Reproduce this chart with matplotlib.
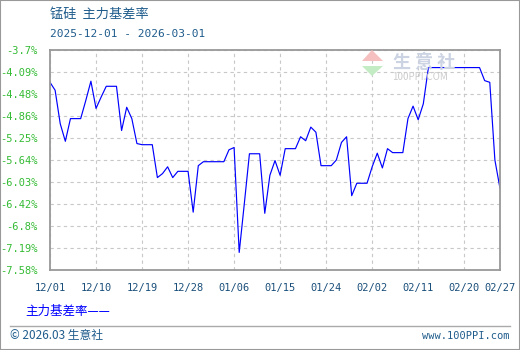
import matplotlib
matplotlib.use('Agg')
import matplotlib.pyplot as plt
from matplotlib.patches import Polygon, Rectangle
from matplotlib.lines import Line2D
import pandas as pd

plt.rcParams['font.family'] = ['Noto Sans CJK SC', 'DejaVu Sans']

# 锰硅 主力基差率 (%) daily, 2025-12-01 .. 2026-02-27
dates = pd.date_range('2025-12-01', '2026-02-27', freq='D')
basis_rate = [
    -4.27, -4.41, -5.00, -5.31, -4.91, -4.91, -4.91, -4.59, -4.25, -4.73,
    -4.53, -4.34, -4.34, -4.34, -5.12, -4.71, -4.91, -5.35, -5.37, -5.37,
    -5.37, -5.95, -5.88, -5.76, -5.95, -5.84, -5.84, -5.84, -6.56, -5.74,
    -5.67, -5.67, -5.67, -5.67, -5.67, -5.46, -5.42, -7.27, -6.41, -5.53,
    -5.53, -5.53, -6.58, -5.91, -5.65, -5.91, -5.44, -5.44, -5.44, -5.23,
    -5.30, -5.06, -5.15, -5.74, -5.74, -5.74, -5.64, -5.33, -5.23, -6.27,
    -6.05, -6.05, -6.05, -5.76, -5.52, -5.78, -5.44, -5.51, -5.51, -5.51,
    -4.91, -4.69, -4.93, -4.65, -4.01, -4.01, -4.01, -4.01, -4.01, -4.01,
    -4.01, -4.01, -4.01, -4.01, -4.01, -4.24, -4.27, -5.64, -6.14,
]
y_ticks = [-3.7, -4.09, -4.48, -4.86, -5.25, -5.64, -6.03, -6.42, -6.8, -7.19, -7.58]
x_tick_dates = pd.to_datetime(['2025-12-01', '2025-12-10', '2025-12-19', '2025-12-28',
                               '2026-01-06', '2026-01-15', '2026-01-24', '2026-02-02',
                               '2026-02-11', '2026-02-20', '2026-02-27'])
x_tick_labels = [d.strftime('%m/%d') for d in x_tick_dates]

W, H = 520, 350
fig = plt.figure(figsize=(W / 100, H / 100), dpi=100)
ax = fig.add_axes([50 / W, 80 / H, 450 / W, 220 / H])

ax.plot(dates, basis_rate, color='#0000ff', linewidth=0.85)

ax.set_xlim(dates[0], dates[-1])
ax.set_ylim(y_ticks[-1], y_ticks[0])
ax.set_yticks(y_ticks)
ax.set_yticklabels([f'{v:g}%' for v in y_ticks], family='DejaVu Sans Mono',
                   fontsize=7.5, color='#33bb33')
ax.set_xticks(x_tick_dates)
ax.set_xticklabels(x_tick_labels, family='DejaVu Sans Mono', fontsize=7.5, color='#1a4f7a')
ax.tick_params(axis='both', length=0)
ax.tick_params(axis='y', pad=9)
ax.tick_params(axis='x', pad=9)
ax.grid(True, color='#c8c8c8', linestyle=(0, (3, 3)), linewidth=0.8)
for s in ax.spines.values():
    s.set_color('#999999')
    s.set_linewidth(1.3)

# title
fig.text(50 / W, 1 - 14 / H, '锰硅  主力基差率', fontsize=9.5, color='#1f5c8c', va='center')
fig.text(50 / W, 1 - 34 / H, '2025-12-01 - 2026-03-01', family='DejaVu Sans Mono',
         fontsize=8, color='#1f5c8c', va='center')

# watermark
tf = fig.transFigure
def fp(x, y):
    return (x / W, 1 - y / H)
wm_red = Polygon([fp(362, 61), fp(372, 50), fp(383, 61)], closed=True, transform=tf,
                 facecolor='#f6c0c0', edgecolor='none')
wm_green = Polygon([fp(362, 66), fp(383, 66), fp(372, 76)], closed=True, transform=tf,
                   facecolor='#c4ecc4', edgecolor='none')
fig.patches.extend([wm_red, wm_green])
fig.text(393 / W, 1 - 63 / H, '生 意 社', fontsize=13, color='#ccd4e4', va='center',
         fontweight='bold')
fig.text(392 / W, 1 - 77 / H, '100PPI.COM', fontsize=7, color='#cccccc', va='center')

# legend
fig.text(25 / W, 1 - 311 / H, '主力基差率——', fontsize=9, color='#0000ff', va='center')

# footer
fig.lines.append(Line2D([10 / W, 510 / W], [1 - 326 / H, 1 - 326 / H], transform=tf,
                        color='#aaaaaa', linewidth=1))
fig.text(10 / W, 1 - 336 / H, '© 2026.03 生意社', fontsize=8.5, color='#1f5c8c', va='center')
fig.text(510 / W, 1 - 336 / H, 'www.100PPI.com', family='DejaVu Sans Mono', fontsize=7.5,
         color='#1f5c8c', va='center', ha='right')

fig.patches.append(Rectangle((0, 0), 1, 1, transform=tf, fill=False,
                             edgecolor='#999999', linewidth=1.5))

fig.savefig('out.png', dpi=100)
